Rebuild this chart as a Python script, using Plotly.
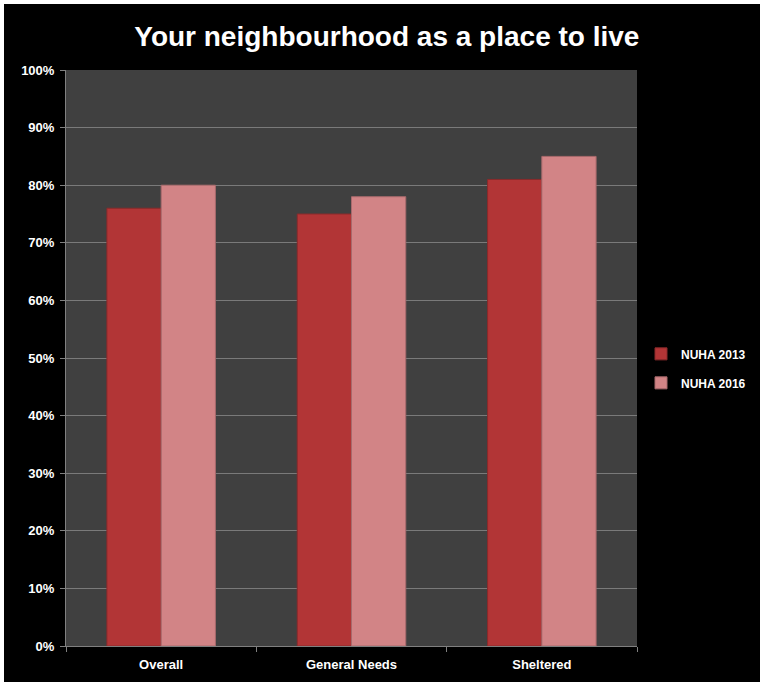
import plotly.graph_objects as go

categories = ["Overall", "General Needs", "Sheltered"]
nuha_2013 = [0.76, 0.75, 0.81]
nuha_2016 = [0.80, 0.78, 0.85]
y_ticks = [0, 0.1, 0.2, 0.3, 0.4, 0.5, 0.6, 0.7, 0.8, 0.9, 1.0]
y_tick_labels = ["0%", "10%", "20%", "30%", "40%", "50%", "60%", "70%", "80%", "90%", "100%"]

W, H = 760, 682
ML, MR, MT, MB = 66, 123, 70, 36
pw = W - ML - MR
ph = H - MT - MB
FONT = "Liberation Sans, Arial"

fig = go.Figure()
fig.add_trace(go.Bar(
    x=categories, y=nuha_2013, name="<b>NUHA 2013</b>", legendgroup="a",
    marker=dict(color="#B23536", line=dict(color="#8A2A2B", width=1)),
))
fig.add_trace(go.Bar(
    x=categories, y=nuha_2016, name="<b>NUHA 2016</b>", legendgroup="b",
    marker=dict(color="#D28486", line=dict(color="#A86A6C", width=1)),
))

shapes = [
    # black panel leaving a thin white edge at top and left
    dict(type="rect", xref="paper", yref="paper", layer="below",
         x0=(4 - ML) / pw, x1=(W + 10 - ML) / pw,
         y0=-(MB + 10) / ph, y1=(ph + MT - 4) / ph,
         fillcolor="black", line=dict(width=0)),
    # dark grey plotting area
    dict(type="rect", xref="x domain", yref="y domain", layer="below",
         x0=0, x1=1, y0=0, y1=1, fillcolor="#404040", line=dict(width=0)),
]

fig.update_layout(
    width=W, height=H,
    margin=dict(l=ML, r=MR, t=MT, b=MB, autoexpand=False),
    paper_bgcolor="white",
    plot_bgcolor="#404040",
    shapes=shapes,
    barmode="group",
    bargap=0.43,
    bargroupgap=0.0,
    title=dict(
        text="<b>Your neighbourhood as a place to live</b>",
        x=0.509, xanchor="center", y=1 - 36 / H, yanchor="middle",
        font=dict(family=FONT, size=28, color="white"),
    ),
    font=dict(family=FONT, color="white", size=13),
    legend=dict(
        x=(641 - ML) / pw, xanchor="left", y=0.482, yanchor="middle",
        font=dict(size=12, color="white", family=FONT),
        bgcolor="rgba(0,0,0,0)",
        itemwidth=30, tracegroupgap=10,
    ),
    showlegend=True,
)
fig.update_xaxes(
    showline=True, linecolor="#808080", linewidth=1,
    ticks="outside", tickcolor="#808080", ticklen=5,
    tickson="boundaries",
    ticklabelstandoff=6,
    tickfont=dict(size=13, color="white", family=FONT),
    tickprefix="<b>", ticksuffix="</b>",
    showgrid=False,
)
fig.update_yaxes(
    range=[0, 1.0],
    tickvals=y_ticks, ticktext=["<b>" + t + "</b>" for t in y_tick_labels],
    showline=True, linecolor="#808080", linewidth=1,
    ticks="outside", tickcolor="#808080", ticklen=5,
    ticklabelstandoff=3,
    showgrid=True, gridcolor="#7A7A7A", gridwidth=1,
    zeroline=False,
    tickfont=dict(size=13, color="white", family=FONT),
)

fig.write_html("out.html")
